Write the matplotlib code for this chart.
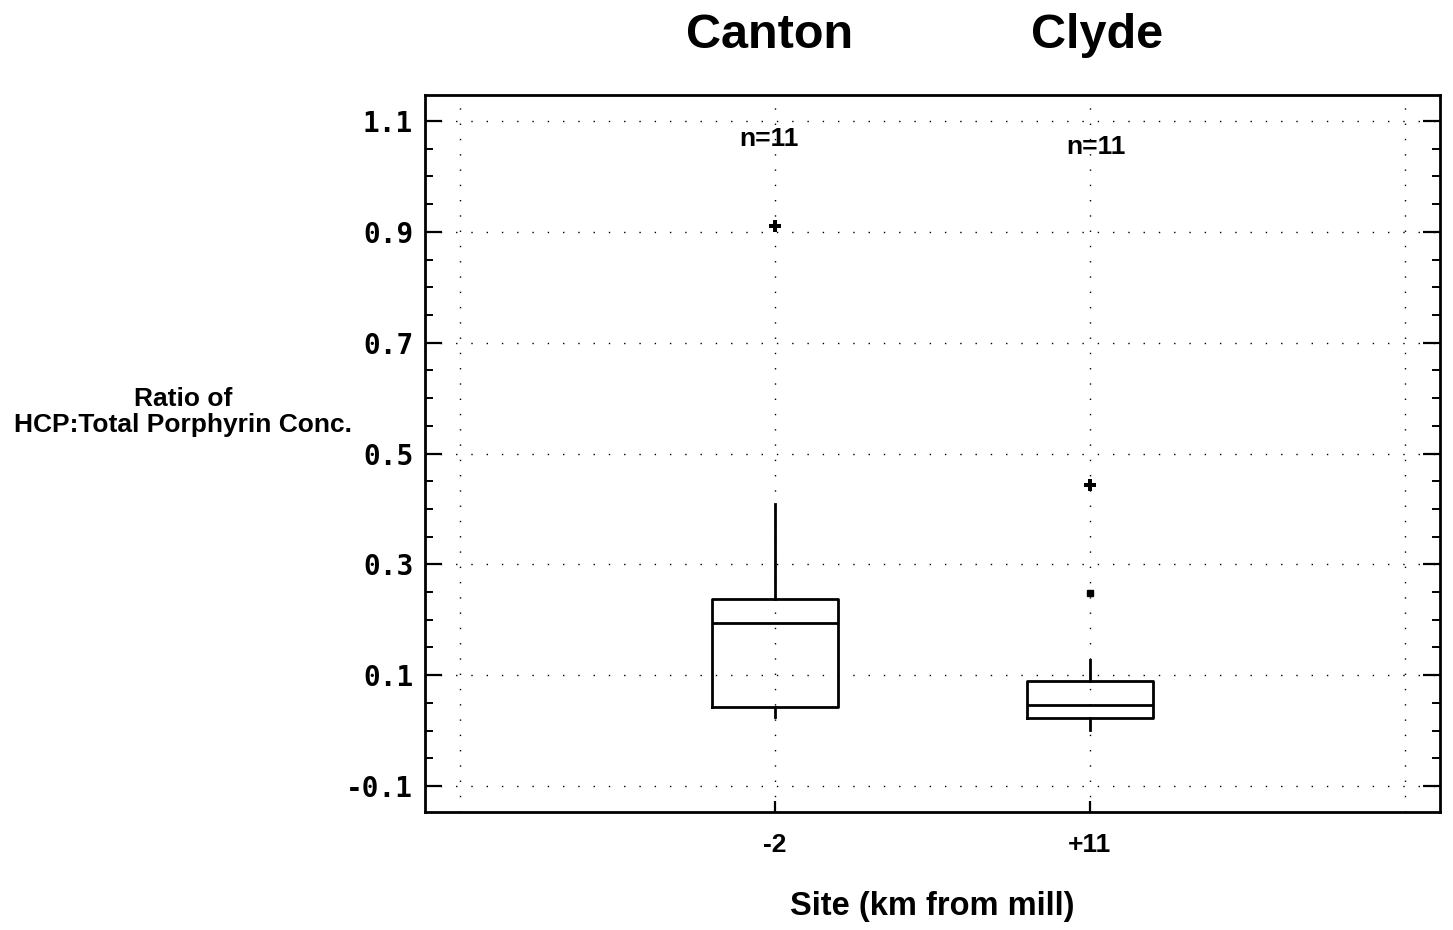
import matplotlib
matplotlib.use("Agg")
import matplotlib.pyplot as plt
from matplotlib.ticker import MultipleLocator, FixedLocator

# Data
sites = ["-2", "+11"]
site_names = ["Canton", "Clyde"]
n_samples = [11, 11]
q1 = [0.042, 0.022]
medians = [0.194, 0.046]
q3 = [0.237, 0.089]
whisker_low = [0.024, 0.001]
whisker_high = [0.409, 0.127]
outliers_plus = [[0.910], [0.443]]
outliers_dot = [[], [0.248]]
y_ticks = [1.1, 0.9, 0.7, 0.5, 0.3, 0.1, -0.1]
y_tick_labels = ["1.1", "0.9", "0.7", "0.5", "0.3", "0.1", "-0.1"]

fig = plt.figure(figsize=(14.53, 9.30), dpi=100)
ax = fig.add_axes([0.2925, 0.1269, 0.6985, 0.7709])

positions = [1, 2]
stats = []
for i in range(len(sites)):
    stats.append(dict(med=medians[i], q1=q1[i], q3=q3[i],
                      whislo=whisker_low[i], whishi=whisker_high[i],
                      fliers=[], label=sites[i]))

line = dict(color="black", linewidth=2.0)
ax.bxp(stats, positions=positions, widths=0.4, showfliers=False,
       boxprops=line, medianprops=line, whiskerprops=line,
       capprops=dict(linewidth=0), manage_ticks=False, zorder=3)

for p, vals in zip(positions, outliers_plus):
    ax.plot([p] * len(vals), vals, marker="P", linestyle="none",
            markersize=8, color="black", markeredgewidth=0, zorder=4)
for p, vals in zip(positions, outliers_dot):
    ax.plot([p] * len(vals), vals, marker="s", linestyle="none",
            markersize=4, color="black", zorder=4)

ax.set_xlim(-0.111, 3.111)
ax.set_ylim(-0.147, 1.147)

# Dotted grid at the major y ticks and at four x positions
for y in y_ticks:
    ax.axhline(y, color="black", linewidth=1.0, linestyle=(0, (1, 10)), zorder=1)
for x in [0, 1, 2, 3]:
    ax.axvline(x, color="black", linewidth=1.0, linestyle=(0, (1, 10)), zorder=1)

ax.yaxis.set_major_locator(FixedLocator(y_ticks))
ax.set_yticklabels(y_tick_labels, family="DejaVu Sans Mono",
                   fontweight="bold", fontsize=20)
ax.yaxis.set_minor_locator(MultipleLocator(0.05))
ax.tick_params(axis="y", which="major", direction="in", length=12, width=1.6,
               left=True, right=True, pad=8.5)
ax.tick_params(axis="y", which="minor", direction="in", length=6, width=1.4,
               left=True, right=True)

ax.set_xticks(positions)
ax.set_xticklabels(sites, family="Liberation Sans", fontweight="bold",
                   fontsize=19)
ax.tick_params(axis="x", direction="in", length=8, width=1.6, pad=15)

for s in ax.spines.values():
    s.set_linewidth(2.0)

ax.text(positions[0] - 0.02, 1.068, f"n={n_samples[0]}", ha="center",
        va="center", fontsize=19, fontweight="bold", family="Liberation Sans")
ax.text(positions[1] + 0.02, 1.054, f"n={n_samples[1]}", ha="center",
        va="center", fontsize=19, fontweight="bold", family="Liberation Sans")

title_x = [770 / 1453, 1097 / 1453]
for tx, name in zip(title_x, site_names):
    fig.text(tx, 1 - 36 / 930, name, ha="center", va="center", fontsize=35,
             fontweight="bold", family="Liberation Sans")

fig.text(183 / 1453, 1 - 412 / 930, "Ratio of\nHCP:Total Porphyrin Conc.",
         ha="center", va="center", fontsize=19, family="Liberation Sans",
         fontweight="semibold", linespacing=1.1)
fig.text(932 / 1453, 1 - 906 / 930, "Site (km from mill)", ha="center",
         va="center", fontsize=23.5, fontweight="bold", family="Liberation Sans")

fig.savefig("out.png", dpi=100, facecolor="white")
